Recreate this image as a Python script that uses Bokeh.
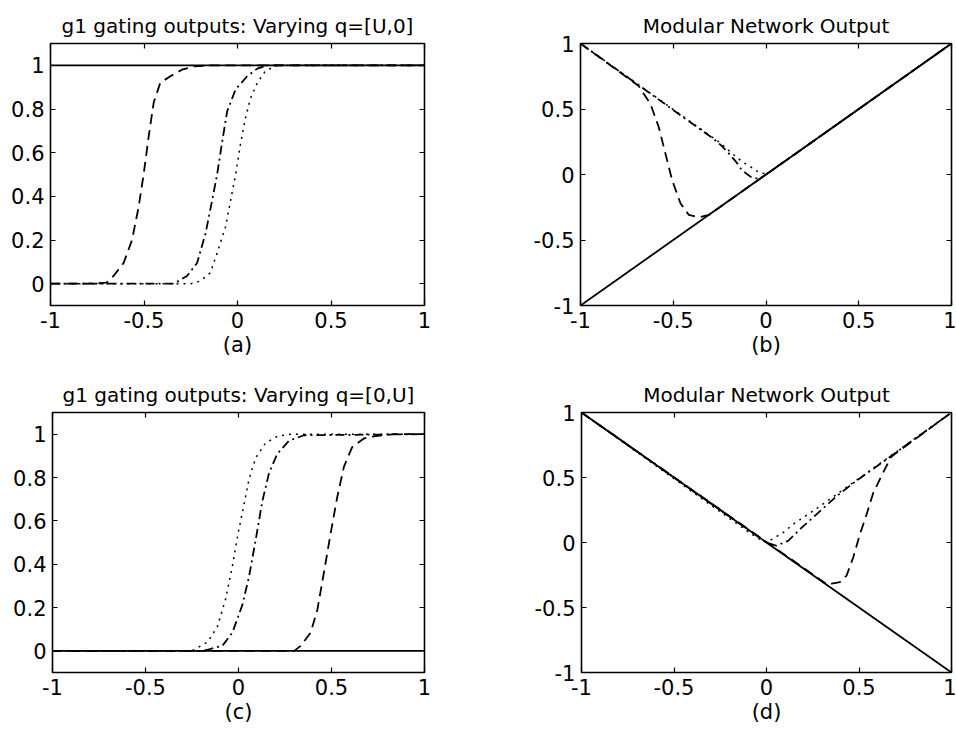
from bokeh.plotting import figure
from bokeh.models import Range1d, FixedTicker, LinearAxis, CustomJSTickFormatter
from bokeh.layouts import column, row
from bokeh.embed import file_html
from bokeh.resources import INLINE

# ---- (a) gating outputs, q = [U, 0] ----
a_solid_x = [-1, 1]
a_solid_y = [1, 1]
a_dash_x = [-1, -0.8, -0.7, -0.663, -0.609, -0.564, -0.529, -0.502, -0.474, -0.448, -0.413, -0.359, -0.297, -0.234, -0.15, 1]
a_dash_y = [0, 0, 0.005, 0.035, 0.095, 0.2, 0.35, 0.5, 0.68, 0.83, 0.92, 0.95, 0.98, 0.995, 1, 1]
a_dashdot_x = [-1, -0.34, -0.27, -0.216, -0.171, -0.136, -0.109, -0.082, -0.055, -0.01, 0.052, 0.106, 0.159, 1]
a_dashdot_y = [0, 0, 0.035, 0.095, 0.23, 0.38, 0.5, 0.65, 0.79, 0.89, 0.95, 0.985, 1, 1]
a_dot_x = [-1, -0.25, -0.198, -0.145, -0.109, -0.064, -0.037, -0.01, 0.016, 0.043, 0.07, 0.106, 0.15, 0.213, 1]
a_dot_y = [0, 0, 0.012, 0.05, 0.14, 0.26, 0.38, 0.5, 0.64, 0.76, 0.85, 0.92, 0.975, 1, 1]

# ---- (b) network output, q = [U, 0] ----
b_solid_x = [-1, 1]
b_solid_y = [-1, 1]
b_dash_x = [-1, -0.686, -0.623, -0.578, -0.542, -0.506, -0.461, -0.416, -0.362, -0.308, 1]
b_dash_y = [1, 0.675, 0.539, 0.361, 0.159, -0.043, -0.22, -0.309, -0.327, -0.309, 1]
b_dashdot_x = [-1, -0.35, -0.29, -0.24, -0.2, -0.163, -0.136, -0.109, -0.08, -0.05, -0.02, 1]
b_dashdot_y = [1, 0.34, 0.28, 0.22, 0.16, 0.1, 0.045, 0.01, -0.02, -0.03, -0.02, 1]
b_dot_x = [-1, -0.25, -0.181, -0.127, -0.082, -0.037, 0.0, 0.026, 1]
b_dot_y = [1, 0.245, 0.159, 0.096, 0.058, 0.015, 0.005, 0.026, 1]

# ---- (c) gating outputs, q = [0, U] ----
c_solid_x = [-1, 1]
c_solid_y = [0, 0]
c_dot_x = [-1, -0.26, -0.239, -0.167, -0.114, -0.069, -0.033, -0.003, 0.026, 0.056, 0.092, 0.146, 0.209, 0.28, 1]
c_dot_y = [0, 0, 0.005, 0.04, 0.11, 0.24, 0.39, 0.54, 0.66, 0.79, 0.89, 0.96, 0.99, 1, 1]
c_dashdot_x = [-1, -0.2, -0.167, -0.087, -0.033, 0.02, 0.056, 0.092, 0.128, 0.164, 0.209, 0.272, 0.352, 1]
c_dashdot_y = [0, 0, 0.005, 0.023, 0.084, 0.21, 0.34, 0.51, 0.69, 0.82, 0.91, 0.97, 0.995, 1]
c_dash_x = [-1, 0.3, 0.334, 0.388, 0.424, 0.459, 0.495, 0.531, 0.567, 0.611, 0.674, 0.728, 0.835, 1]
c_dash_y = [0, 0, 0.023, 0.084, 0.19, 0.36, 0.54, 0.71, 0.85, 0.94, 0.98, 0.99, 1, 1]

# ---- (d) network output, q = [0, U] ----
d_solid_x = [-1, 1]
d_solid_y = [1, -1]
d_dash_x = [-1, 0.33, 0.352, 0.397, 0.433, 0.469, 0.505, 0.541, 0.577, 0.62, 0.674, 1]
d_dash_y = [1, -0.325, -0.317, -0.305, -0.254, -0.114, 0.064, 0.216, 0.381, 0.508, 0.66, 1]
d_dashdot_x = [-1, 0.0, 0.054, 0.117, 0.19, 0.27, 0.379, 0.469, 0.6, 1]
d_dashdot_y = [1, 0.0, -0.025, 0.013, 0.114, 0.216, 0.356, 0.457, 0.59, 1]
d_dot_x = [-1, -0.081, -0.03, 0.0, 0.045, 0.09, 0.144, 0.207, 0.3, 1]
d_dot_y = [1, 0.064, 0.02, 0.0, 0.038, 0.076, 0.14, 0.2, 0.29, 1]

x_ticks = [-1, -0.5, 0, 0.5, 1]
gate_ticks = [0, 0.2, 0.4, 0.6, 0.8, 1]
out_ticks = [-1, -0.5, 0, 0.5, 1]

FONT = "DejaVu Sans"
DASH = "10 6"
DASHDOT = "9 4 2 4"
DOT = "2 5"


def fmt():
    return CustomJSTickFormatter(code="return tick.toString();")


def style_axis(ax, ticks, show_labels=True):
    ax.ticker = FixedTicker(ticks=ticks)
    ax.axis_line_color = None
    ax.major_tick_in = 5
    ax.major_tick_out = 0
    ax.minor_tick_line_color = None
    ax.major_tick_line_color = "black"
    ax.major_tick_line_width = 1.2
    if show_labels:
        ax.formatter = fmt()
        ax.major_label_text_font = FONT
        ax.major_label_text_font_size = "21px"
        ax.major_label_text_color = "black"
        ax.major_label_standoff = 6
    else:
        # tick marks only: the labels are not painted
        ax.major_label_text_font_size = "0px"
        ax.major_label_text_color = None
        ax.major_label_standoff = 0


def panel(title, label, yr, yticks, width, height, borders, series):
    left, right, top, bottom = borders
    p = figure(width=width, height=height,
               x_range=Range1d(-1, 1), y_range=Range1d(*yr),
               output_backend="svg", toolbar_location=None,
               min_border_left=left, min_border_right=right,
               min_border_top=top, min_border_bottom=bottom,
               background_fill_color="white", border_fill_color="white")
    p.title.text = title
    p.title.text_font = FONT
    p.title.text_font_size = "20px"
    p.title.text_font_style = "normal"
    p.title.text_color = "black"
    p.title.align = "center"
    p.title.standoff = 12
    p.grid.visible = False
    p.outline_line_color = "black"
    p.outline_line_width = 1.6

    style_axis(p.xaxis[0], x_ticks)
    style_axis(p.yaxis[0], yticks)
    p.xaxis.axis_label = label
    p.xaxis.axis_label_text_font = FONT
    p.xaxis.axis_label_text_font_size = "21px"
    p.xaxis.axis_label_text_font_style = "normal"
    p.xaxis.axis_label_text_color = "black"
    p.xaxis.axis_label_standoff = 2

    top_ax = LinearAxis()
    style_axis(top_ax, x_ticks, show_labels=False)
    p.add_layout(top_ax, "above")
    right_ax = LinearAxis()
    style_axis(right_ax, yticks, show_labels=False)
    p.add_layout(right_ax, "right")

    for xs, ys, dash, lw in series:
        p.line(xs, ys, line_color="black", line_width=lw, line_dash=dash)
    return p


pa = panel("g1 gating outputs: Varying q=[U,0]", "(a)", (-0.1, 1.1), gate_ticks,
           478, 365, (50, 54, 43, 60),
           [(a_solid_x, a_solid_y, "solid", 1.8),
            (a_dash_x, a_dash_y, DASH, 1.8),
            (a_dashdot_x, a_dashdot_y, DASHDOT, 1.8),
            (a_dot_x, a_dot_y, DOT, 1.5)])

pb = panel("Modular Network Output", "(b)", (-1, 1), out_ticks,
           478, 365, (102, 5, 43, 59),
           [(b_solid_x, b_solid_y, "solid", 1.8),
            (b_dash_x, b_dash_y, DASH, 1.8),
            (b_dashdot_x, b_dashdot_y, DASHDOT, 1.8),
            (b_dot_x, b_dot_y, DOT, 1.5)])

pc = panel("g1 gating outputs: Varying q=[0,U]", "(c)", (-0.1, 1.1), gate_ticks,
           478, 366, (52, 54, 47, 59),
           [(c_solid_x, c_solid_y, "solid", 1.8),
            (c_dash_x, c_dash_y, DASH, 1.8),
            (c_dashdot_x, c_dashdot_y, DASHDOT, 1.8),
            (c_dot_x, c_dot_y, DOT, 1.5)])

pd = panel("Modular Network Output", "(d)", (-1, 1), out_ticks,
           478, 366, (103, 5, 45, 59),
           [(d_solid_x, d_solid_y, "solid", 1.8),
            (d_dash_x, d_dash_y, DASH, 1.8),
            (d_dashdot_x, d_dashdot_y, DASHDOT, 1.8),
            (d_dot_x, d_dot_y, DOT, 1.5)])

layout = column(row(pa, pb), row(pc, pd))
open("out.html", "w").write(file_html(layout, INLINE))
